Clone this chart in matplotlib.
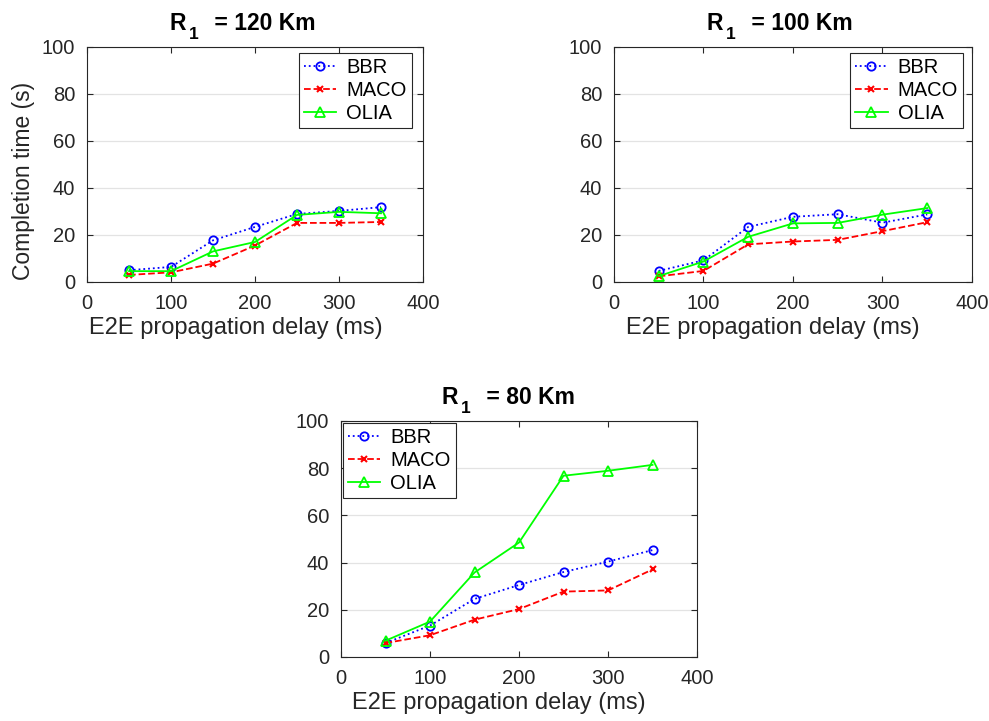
import matplotlib.pyplot as plt
import numpy as np
from matplotlib.offsetbox import (TextArea, VPacker, HPacker, DrawingArea,
                                  AnchoredOffsetbox)

plt.rcParams['font.family'] = ['Liberation Sans', 'DejaVu Sans']

# data
delay = [50, 100, 150, 200, 250, 300, 350]

bbr_120 = [5.0, 6.4, 17.7, 23.4, 28.9, 30.2, 31.8]
maco_120 = [3.0, 4.1, 7.8, 15.5, 25.1, 25.1, 25.5]
olia_120 = [4.6, 4.6, 13.0, 17.0, 28.5, 29.8, 29.2]

bbr_100 = [4.7, 9.2, 23.4, 27.7, 28.8, 25.2, 28.7]
maco_100 = [2.4, 4.7, 16.0, 17.2, 17.9, 21.6, 25.4]
olia_100 = [2.5, 8.7, 19.2, 24.9, 25.1, 28.6, 31.4]

bbr_80 = [5.9, 13.3, 24.6, 30.5, 36.0, 40.4, 45.3]
maco_80 = [5.9, 9.2, 15.8, 20.3, 27.7, 28.2, 37.1]
olia_80 = [6.9, 15.0, 35.8, 48.5, 76.8, 78.9, 81.4]

titles = ['120', '100', '80']
series = [(bbr_120, maco_120, olia_120),
          (bbr_100, maco_100, olia_100),
          (bbr_80, maco_80, olia_80)]

fig = plt.figure(figsize=(9.89, 7.21), dpi=100)
positions = [
    [0.088, 0.6089, 0.3397, 0.3264],
    [0.6208, 0.6089, 0.362, 0.3264],
    [0.3448, 0.0888, 0.36, 0.3273],
]
# legend anchor (axes fraction) and location
legend_pos = [('upper right', (0.967, 0.973)),
              ('upper right', (0.975, 0.973)),
              ('upper left', (0.006, 0.992))]
# left edge of the title block, axes fraction
title_x = [0.245, 0.258, 0.282]
dark = '#262626'


def matlab_title(ax, km, x0):
    # "R_1 = .. Km" with the low MATLAB-style subscript
    bold = dict(fontsize=16.5, fontweight='bold', color='black')
    r = TextArea('R', textprops=bold)
    sub = VPacker(children=[DrawingArea(1, 11),
                            TextArea('1', textprops=dict(fontsize=12.5, fontweight='bold'))],
                  pad=0, sep=0)
    gap = DrawingArea(3, 1)
    rest = TextArea(' = ' + km + ' Km', textprops=bold)
    box = HPacker(children=[r, sub, gap, rest], align='top', pad=0, sep=2)
    anchored = AnchoredOffsetbox(loc='lower left', child=box, pad=0, borderpad=0,
                                 frameon=False, bbox_to_anchor=(x0, 1.02),
                                 bbox_transform=ax.transAxes)
    ax.add_artist(anchored)


for i, (km, (bbr, maco, olia)) in enumerate(zip(titles, series)):
    ax = fig.add_axes(positions[i])
    ax.plot(delay, bbr, ':', color='blue', marker='o', markersize=6,
            markerfacecolor='none', markeredgewidth=1.3, linewidth=1.3, label='BBR')
    ax.plot(delay, maco, '--', color='red', marker='x', markersize=4.5,
            markeredgewidth=1.5, linewidth=1.3, label='MACO')
    ax.plot(delay, olia, '-', color=(0, 1, 0), marker='^', markersize=6.5,
            markerfacecolor='none', markeredgewidth=1.3, linewidth=1.3, label='OLIA')

    ax.set_xlim(0, 400)
    ax.set_ylim(0, 100)
    ax.set_xticks(np.arange(0, 401, 100))
    ax.set_yticks(np.arange(0, 101, 20))
    ax.tick_params(direction='in', top=True, right=True, labelsize=14.5,
                   colors=dark, length=4, width=0.8, pad=8.5)
    for s in ax.spines.values():
        s.set_color(dark)
        s.set_linewidth(0.8)
    ax.yaxis.grid(True, color='#e3e3e3', linewidth=0.9)
    ax.set_axisbelow(True)

    ax.set_xlabel('E2E propagation delay (ms)', fontsize=17, color=dark, labelpad=3)
    ax.xaxis.label.set_x(0.443)
    if i == 0:
        ax.set_ylabel('Completion time (s)', fontsize=16.5, color=dark, labelpad=5)
        ax.yaxis.label.set_y(0.43)
    matlab_title(ax, km, title_x[i])

    loc, anchor = legend_pos[i]
    leg = ax.legend(loc=loc, bbox_to_anchor=anchor, fontsize=14.5, fancybox=False,
                    framealpha=1, edgecolor=dark, handlelength=1.6,
                    handletextpad=0.5, borderaxespad=0, borderpad=0.25,
                    labelspacing=0.2)
    leg.get_frame().set_linewidth(0.8)

plt.savefig('out.png', dpi=100)
